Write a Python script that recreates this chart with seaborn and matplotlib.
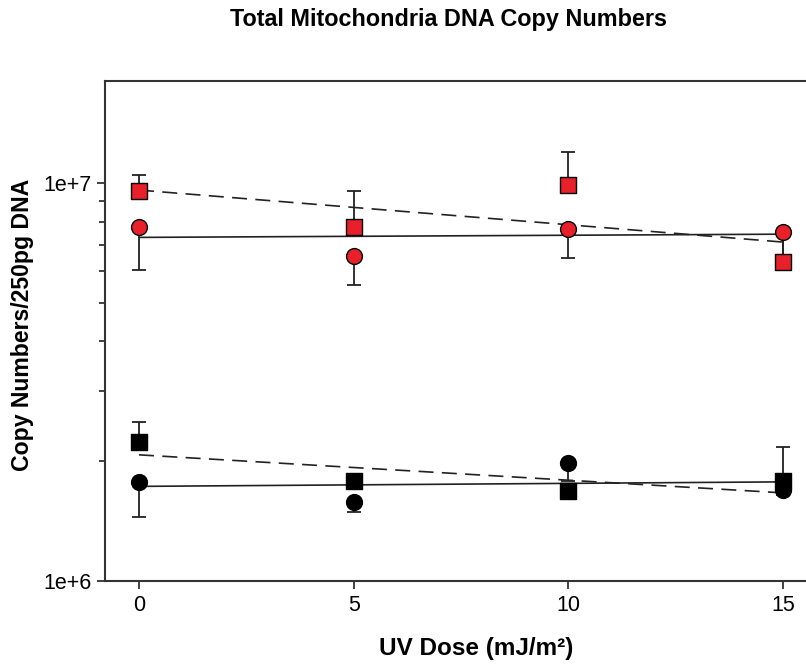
import numpy as np
import pandas as pd
import matplotlib
matplotlib.use("Agg")
import matplotlib.pyplot as plt
import matplotlib.ticker as mticker
import seaborn as sns

# UV dose levels
dose = [0, 5, 10, 15]

# red series (squares: dashed fit, circles: solid fit)
red_sq = [9.57e6, 7.77e6, 9.89e6, 6.32e6]
red_sq_err = [0.90e6, 1.78e6, 2.07e6, 1.04e6]
red_ci = [7.77e6, 6.57e6, 7.65e6, 7.54e6]
red_ci_err = [1.72e6, 1.04e6, 1.16e6, 1.06e6]

# black series
blk_sq = [2.23e6, 1.78e6, 1.68e6, 1.78e6]
blk_sq_err = [0.27e6, 0.06e6, 0.06e6, 0.39e6]
blk_ci = [1.77e6, 1.58e6, 1.98e6, 1.69e6]
blk_ci_err = [0.32e6, 0.09e6, 0.20e6, 0.05e6]

ytick_vals = [1e6, 1e7]
ytick_labels = ["1e+6", "1e+7"]
xtick_vals = [0, 5, 10, 15]

sns.set_style("ticks")
plt.rcParams['font.family'] = ['Liberation Sans', 'DejaVu Sans']
plt.rcParams['text.color'] = 'black'
plt.rcParams['xtick.labelcolor'] = 'black'
plt.rcParams['ytick.labelcolor'] = 'black'

df = pd.DataFrame({
    "dose": dose * 4,
    "copies": red_ci + red_sq + blk_ci + blk_sq,
    "err": red_ci_err + red_sq_err + blk_ci_err + blk_sq_err,
    "group": ["red_ci"] * 4 + ["red_sq"] * 4 + ["blk_ci"] * 4 + ["blk_sq"] * 4,
})

dash = (0, (9, 5))
styles = {
    "red_ci": dict(color="#e8202a", marker="o", ls="-", up=False),
    "red_sq": dict(color="#e8202a", marker="s", ls=dash, up=True),
    "blk_ci": dict(color="black", marker="o", ls="-", up=False),
    "blk_sq": dict(color="black", marker="s", ls=dash, up=True),
}

fig = plt.figure(figsize=(8.06, 6.65), dpi=100)
ax = fig.add_axes([0.1303, 0.1268, 0.8697, 0.7514])

for name, st in styles.items():
    sub = df[df["group"] == name]
    # log-space linear fit line
    k, b = np.polyfit(sub["dose"], np.log10(sub["copies"]), 1)
    fx = np.array([0, 15])
    fit = pd.DataFrame({"dose": fx, "copies": 10 ** (k * fx + b)})
    sns.lineplot(data=fit, x="dose", y="copies", ax=ax, color="#222222",
                 lw=1.2, linestyle=st["ls"], zorder=2)
    zero = np.zeros(len(sub))
    yerr = [zero, sub["err"].values] if st["up"] else [sub["err"].values, zero]
    ax.errorbar(sub["dose"], sub["copies"], yerr=yerr, fmt="none",
                ecolor="#222222", elinewidth=1.3, capsize=5, capthick=1.3, zorder=3)
    sns.scatterplot(data=sub, x="dose", y="copies", ax=ax, color=st["color"],
                    marker=st["marker"], s=130, edgecolor="black", linewidth=1,
                    zorder=4, legend=False)

ax.set_yscale("log")
ax.set_xlim(-0.792, 15.537)
ax.set_ylim(1e6, 1.805e7)
ax.yaxis.set_major_locator(mticker.FixedLocator(ytick_vals))
ax.yaxis.set_major_formatter(mticker.FixedFormatter(ytick_labels))
ax.yaxis.set_minor_locator(mticker.LogLocator(base=10, subs=np.arange(2, 10)))
ax.yaxis.set_minor_formatter(mticker.NullFormatter())
ax.set_xticks(xtick_vals)
ax.set_xticklabels([str(v) for v in xtick_vals])

for s in ["left", "bottom", "top"]:
    ax.spines[s].set_color("#333333")
    ax.spines[s].set_linewidth(1.5)
ax.spines["right"].set_visible(False)
ax.tick_params(axis="both", which="major", direction="out", length=6,
               width=1.3, color="#333333", labelsize=15.5, pad=4)
ax.tick_params(axis="y", which="minor", direction="out", length=4.5,
               width=1.3, color="#333333")
ax.set_xlabel("")
ax.set_ylabel("")

fig.text(0.556, 0.97, "Total Mitochondria DNA Copy Numbers", ha="center",
         va="center", fontsize=16.8, fontweight="bold")
fig.text(0.5906, 1 - 648 / 665, "UV Dose (mJ/m²)", ha="center", va="center",
         fontsize=17.5, fontweight="bold")
fig.text(23 / 806, 1 - 325 / 665, "Copy Numbers/250pg DNA", ha="center",
         va="center", rotation=90, fontsize=16.6, fontweight="bold")

fig.savefig("out.png", dpi=100)
